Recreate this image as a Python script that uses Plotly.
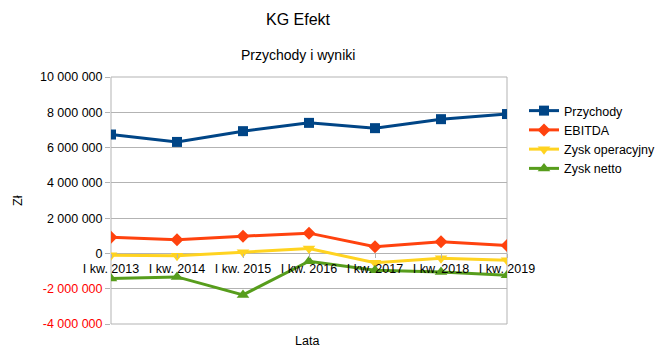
import plotly.graph_objects as go

categories = ["I kw. 2013", "I kw. 2014", "I kw. 2015", "I kw. 2016", "I kw. 2017", "I kw. 2018", "I kw. 2019"]
przychody = [6740000, 6320000, 6930000, 7400000, 7100000, 7610000, 7900000]
ebitda = [910000, 770000, 980000, 1150000, 380000, 660000, 450000]
zysk_operacyjny = [-100000, -130000, 70000, 280000, -530000, -270000, -380000]
zysk_netto = [-1420000, -1330000, -2350000, -440000, -950000, -1050000, -1230000]
y_ticks = [-4000000, -2000000, 0, 2000000, 4000000, 6000000, 8000000, 10000000]

series = [
    ("Przychody", przychody, "#004586", "square", 10),
    ("EBITDA", ebitda, "#ff420e", "diamond", 10),
    ("Zysk operacyjny", zysk_operacyjny, "#ffd320", "triangle-down", 11),
    ("Zysk netto", zysk_netto, "#579d1c", "triangle-up", 11),
]

def fmt(v):
    s = f"{abs(v):,}".replace(",", " ")
    if v < 0:
        return f'<span style="color:#ff0000">-{s}</span>'
    return s

fig = go.Figure()
for name, vals, color, sym, sz in series:
    fig.add_trace(go.Scatter(
        x=categories, y=vals, name=name, mode="lines+markers",
        line=dict(color=color, width=3),
        marker=dict(symbol=sym, size=sz, color=color),
    ))

ymin, ymax = -4000000, 10000000
zero_pos = (0 - ymin) / (ymax - ymin)
OFF = 8  # page body margin
PW, PH, L, T = 396, 247, 111, 77

def px(x):
    return (x - L) / PW

def py(y):
    return (T + PH - y) / PH

fig.update_layout(
    width=668 - OFF, height=355 - OFF,
    margin=dict(l=L - OFF, r=668 - L - PW, t=T - OFF, b=355 - T - PH, autoexpand=False),
    paper_bgcolor="white", plot_bgcolor="white",
    font=dict(family="Liberation Sans", size=12, color="#000000"),
    showlegend=True,
    legend=dict(x=px(524), y=py(96), xanchor="left", yanchor="top",
                font=dict(size=12.5), tracegroupgap=0, itemwidth=30,
                bgcolor="rgba(0,0,0,0)"),
    xaxis=dict(
        type="category", range=[0, 6], anchor="free", position=zero_pos,
        showgrid=False, showline=False, ticks="outside", ticklen=4,
        tickcolor="#b3b3b3", tickfont=dict(size=12.5), zeroline=False,
        automargin=False,
    ),
    yaxis=dict(
        range=[ymin, ymax], tickvals=y_ticks, ticktext=[fmt(v) for v in y_ticks],
        showgrid=True, gridcolor="#b3b3b3", gridwidth=1, zeroline=False,
        ticks="outside", ticklen=5, tickcolor="#b3b3b3",
        tickfont=dict(size=12.5), automargin=False,
    ),
    shapes=[dict(type="rect", xref="paper", yref="paper", x0=0, x1=1, y0=0, y1=1,
                 line=dict(color="#b3b3b3", width=1), layer="below")],
    annotations=[
        dict(text="KG Efekt", xref="paper", yref="paper", x=px(298), y=py(20),
             xanchor="center", yanchor="middle", showarrow=False, font=dict(size=16)),
        dict(text="Przychody i wyniki", xref="paper", yref="paper", x=px(297.5), y=py(55),
             xanchor="center", yanchor="middle", showarrow=False, font=dict(size=14)),
        dict(text="Lata", xref="paper", yref="paper", x=px(307), y=py(341),
             xanchor="center", yanchor="middle", showarrow=False, font=dict(size=12.5)),
        dict(text="Zł", xref="paper", yref="paper", x=px(18), y=py(201), textangle=-90,
             xanchor="center", yanchor="middle", showarrow=False, font=dict(size=12.5)),
    ],
)

fig.write_html("out.html")
